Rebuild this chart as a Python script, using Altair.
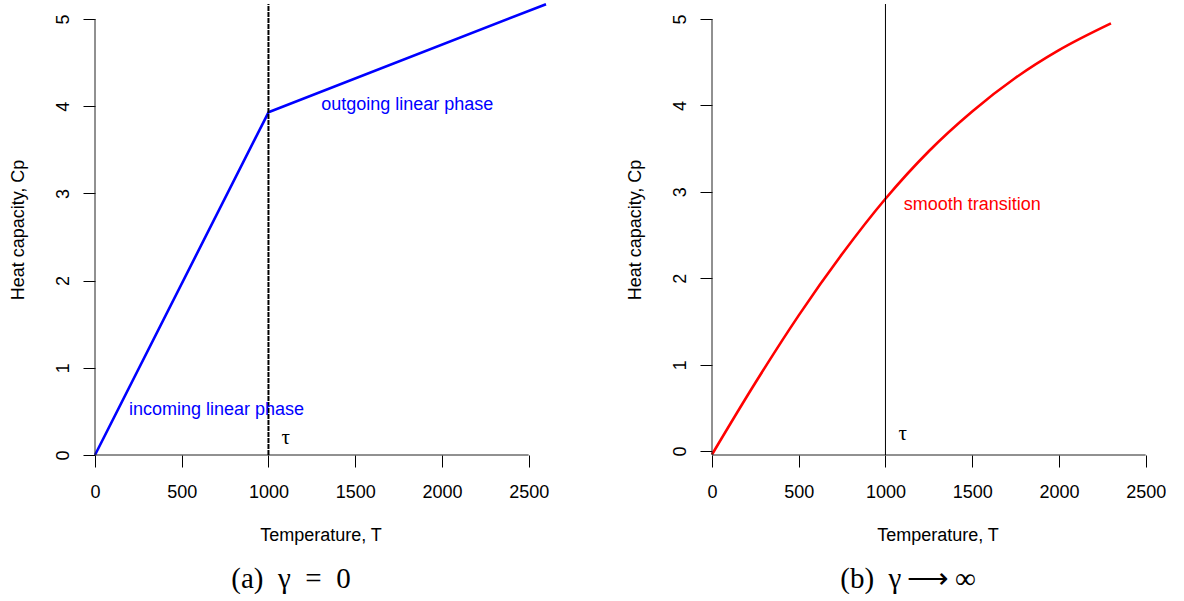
import altair as alt
import pandas as pd

# Heat capacity Cp against temperature T, two limiting cases of gamma.
# (a) gamma = 0: two linear phases joined at tau
linear_T = [0, 1000, 2600]
linear_Cp = [0.0, 3.93, 5.17]

# (b) gamma -> infinity: one smooth curve
smooth_T = [0, 250, 500, 750, 1000, 1250, 1500, 1750, 2000, 2300]
smooth_Cp = [-0.04, 0.79, 1.57, 2.28, 2.92, 3.47, 3.93, 4.32, 4.64, 4.95]

tau = 1000
x_ticks = [0, 500, 1000, 1500, 2000, 2500]
y_ticks = [0, 1, 2, 3, 4, 5]
x_domain = [0, 2600]
y_domain_a = [0, 5.172]
y_domain_b = [-0.046, 5.174]

labels_a = ["outgoing linear phase", "incoming linear phase"]
labels_a_T = [1800, 700]
labels_a_Cp = [4.01, 0.52]
labels_b = ["smooth transition"]
labels_b_T = [1500]
labels_b_Cp = [2.85]
tau_T = 1100
tau_Cp = 0.2

captions = ["(a)\u2002γ\u2002=\u20020", "(b)\u2002γ\u2009⟶\u2009∞"]

SANS = "Liberation Sans"
SERIF = "Liberation Serif"
W, H = 451, 451

X_AXIS = alt.Axis(values=x_ticks, domain=False, grid=False, tickSize=12,
                  tickColor="#000", tickWidth=1, labelFont=SANS,
                  labelFontSize=18, labelColor="#000", labelPadding=30,
                  labelBaseline="alphabetic", labelAngle=0, labelFlush=False,
                  labelOverlap=False, format="d", title="Temperature, T",
                  titleFont=SANS, titleFontSize=18, titleFontWeight="normal",
                  titleColor="#000", titleX=W / 2, titleY=85,
                  titleAlign="center", titleBaseline="alphabetic")

Y_AXIS = alt.Axis(values=y_ticks, domain=False, grid=False, tickSize=12,
                  tickColor="#000", tickWidth=1, labelFont=SANS,
                  labelFontSize=18, labelColor="#000", labelPadding=15,
                  labelAngle=270, labelAlign="center",
                  labelBaseline="alphabetic", labelFlush=False,
                  labelOverlap=False, format="d", title="Heat capacity, Cp",
                  titleFont=SANS, titleFontSize=18, titleFontWeight="normal",
                  titleColor="#000", titleAngle=270, titleX=-72,
                  titleY=H / 2, titleAlign="center",
                  titleBaseline="alphabetic")


def x_enc(field):
    return alt.X(field, type="quantitative", axis=X_AXIS,
                 scale=alt.Scale(domain=x_domain, nice=False, zero=False))


def y_enc(field, domain):
    return alt.Y(field, type="quantitative", axis=Y_AXIS,
                 scale=alt.Scale(domain=domain, nice=False, zero=False))


def panel(T, Cp, color, interp, y_domain, dashed, texts, texts_T, texts_Cp,
          caption):
    curve = pd.DataFrame({"T": T, "Cp": Cp})
    ymin, ymax = y_domain

    line = alt.Chart(curve).mark_line(
        color=color, strokeWidth=2.6, interpolate=interp,
        strokeJoin="round", strokeCap="butt").encode(
        x=x_enc("T"), y=y_enc("Cp", y_domain))

    # axis lines drawn only over the tick range
    xline = alt.Chart(pd.DataFrame({"a": [x_ticks[0]], "b": [x_ticks[-1]],
                                    "y": [ymin]})).mark_rule(
        color="#222", strokeWidth=1).encode(
        x=x_enc("a"), x2="b", y=y_enc("y", y_domain))
    yline = alt.Chart(pd.DataFrame({"x": [0], "a": [ymin],
                                    "b": [y_ticks[-1]]})).mark_rule(
        color="#222", strokeWidth=1).encode(
        x=x_enc("x"), y=y_enc("a", y_domain), y2="b")

    vdf = pd.DataFrame({"x": [tau], "a": [ymin], "b": [ymax]})
    if dashed:
        vrule = alt.Chart(vdf).mark_rule(
            color="#000", strokeWidth=2, strokeDash=[5, 1]).encode(
            x=x_enc("x"), y=y_enc("a", y_domain), y2="b")
    else:
        vrule = alt.Chart(vdf).mark_rule(color="#000", strokeWidth=1).encode(
            x=x_enc("x"), y=y_enc("a", y_domain), y2="b")

    notes = alt.Chart(pd.DataFrame({"t": texts, "T": texts_T,
                                    "Cp": texts_Cp})).mark_text(
        font=SANS, fontSize=18, color=color, align="center",
        baseline="middle").encode(
        x=x_enc("T"), y=y_enc("Cp", y_domain), text="t:N")

    tau_lbl = alt.Chart(pd.DataFrame({"t": ["τ"], "T": [tau_T],
                                      "Cp": [tau_Cp]})).mark_text(
        font=SERIF, fontSize=21, color="#000", align="center",
        baseline="middle").encode(
        x=x_enc("T"), y=y_enc("Cp", y_domain), text="t:N")

    cap = alt.Chart(pd.DataFrame({"t": [caption]})).mark_text(
        font=SERIF, fontSize=29, color="#000", align="center",
        baseline="alphabetic").encode(
        x=alt.value(196), y=alt.value(584), text="t:N")

    return alt.layer(line, xline, yline, vrule, notes, tau_lbl, cap).properties(
        width=W, height=H)


left = panel(linear_T, linear_Cp, "#0000ff", "linear", y_domain_a, True,
             labels_a, labels_a_T, labels_a_Cp, captions[0])
right = panel(smooth_T, smooth_Cp, "#ff0000", "monotone", y_domain_b, False,
              labels_b, labels_b_T, labels_b_Cp, captions[1])

chart = alt.hconcat(left, right, spacing=166, bounds="flush").properties(
    autosize=alt.AutoSizeParams(type="pad"),
    padding={"left": 9, "top": 2, "right": 0, "bottom": 0},
    background="white",
).configure_view(stroke=None)

chart.save("out.html", embed_options={"renderer": "svg", "actions": False})
